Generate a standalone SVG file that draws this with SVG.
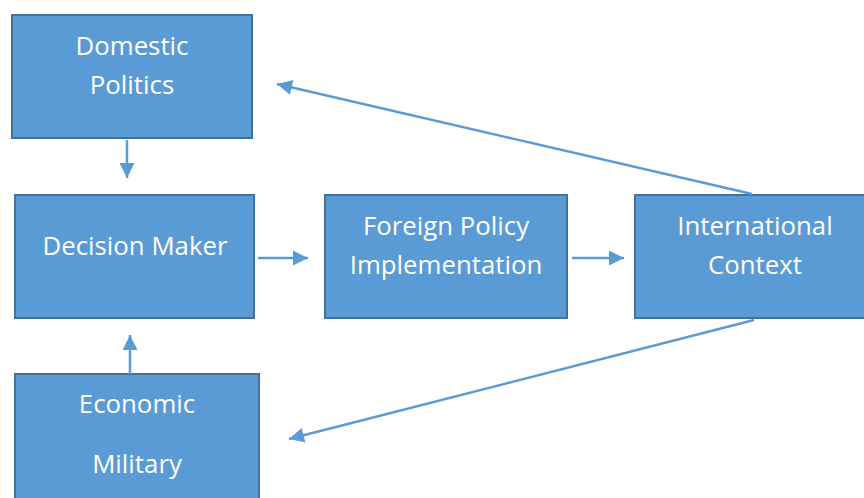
<svg xmlns="http://www.w3.org/2000/svg" width="864" height="498" viewBox="0 0 864 498">
<style>
.box{fill:#5B9BD5;stroke:#41719C;stroke-width:2}
.t{fill:#fff;font-family:"Open Sans","Liberation Sans",sans-serif;font-size:25.8px;text-anchor:middle}
.c{stroke:#5B9BD5;stroke-width:2.5;fill:none;marker-end:url(#ah)}
</style>
<defs>
<marker id="ah" viewBox="0 0 10 10" refX="10" refY="5" markerWidth="6.5" markerHeight="6" markerUnits="strokeWidth" orient="auto">
<path d="M0,0 L10,5 L0,10 z" fill="#5B9BD5"/>
</marker>
</defs>
<g id="domestic"><rect class="box" x="12" y="15" width="240" height="123"/><text class="t" x="132" y="55">Domestic</text><text class="t" x="132" y="94">Politics</text></g>
<g id="decision"><rect class="box" x="15" y="195" width="239" height="123"/><text class="t" x="135" y="255">Decision Maker</text></g>
<g id="foreign"><rect class="box" x="325" y="195" width="242" height="123"/><text class="t" x="446" y="235">Foreign Policy</text><text class="t" x="446" y="274">Implementation</text></g>
<g id="international"><rect class="box" x="635" y="195" width="240" height="123"/><text class="t" x="755" y="235">International</text><text class="t" x="755" y="274">Context</text></g>
<g id="economic"><rect class="box" x="15" y="374" width="244" height="130"/><text class="t" x="137" y="413">Economic</text><text class="t" x="137" y="473">Military</text></g>
<g id="connectors">
<line class="c" x1="127" y1="140" x2="127" y2="178"/>
<line class="c" x1="258" y1="258" x2="308" y2="258"/>
<line class="c" x1="572" y1="258" x2="624" y2="258"/>
<line class="c" x1="752" y1="194" x2="277" y2="84"/>
<line class="c" x1="754" y1="320" x2="289" y2="439"/>
<line class="c" x1="130" y1="374" x2="130" y2="335"/>
</g>
</svg>
